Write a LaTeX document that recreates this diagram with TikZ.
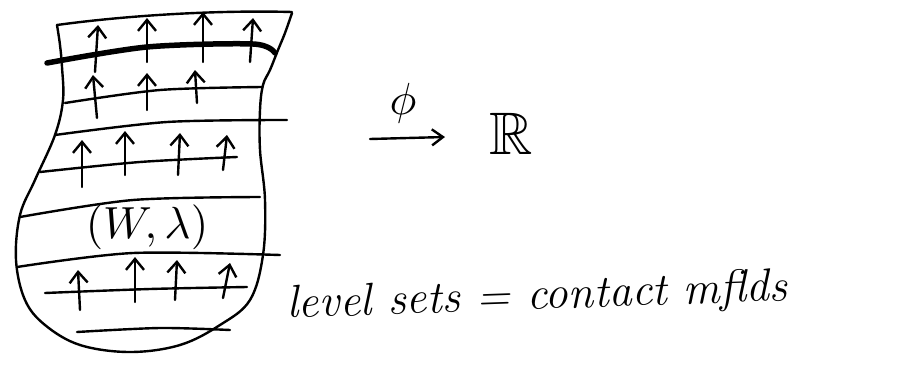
\documentclass[tikz,border=0pt]{standalone}
\usepackage{amssymb}
\usetikzlibrary{arrows.meta}
\begin{document}
\begin{tikzpicture}[x=1pt,y=-1pt,
  pen/.style={line width=2.4pt,line cap=round,line join=round},
  heavy/.style={line width=5.5pt,line cap=round},
  up/.style={pen,-{Straight Barb[length=11pt,width=18pt,line width=2.4pt]}},
  lab/.style={inner sep=0pt}]
\useasboundingbox (0,0) rectangle (900,370);
% outline of the domain
\draw[pen] plot[smooth,tension=0.6] coordinates {(57,25) (60,45) (62,67) (63,100) (55,135) (35,180) (20,215) (16,260) (25,300) (45,325) (80,345) (130,352) (180,345) (220,325) (250,300) (263,255) (265,200) (260,150) (260,110) (263,85) (270,70) (278,50) (285,33) (292,13)};
\draw[pen] (57,25) .. controls (130,15) and (220,10) .. (292,12);
% heavy level set
\draw[heavy] plot[smooth] coordinates {(47,63) (147,47) (253,44) (275,53)};
% level sets
\draw[pen] plot[smooth] coordinates {(65,103) (160,90) (262,87)};
\draw[pen] plot[smooth] coordinates {(55,135) (167,122) (287,120)};
\draw[pen] plot[smooth] coordinates {(40,172) (140,162) (237,157)};
\draw[pen] plot[smooth] coordinates {(20,217) (133,200) (260,197)};
\draw[pen] plot[smooth] coordinates {(17,267) (133,253) (280,255)};
\draw[pen] plot[smooth] coordinates {(45,293) (150,289) (247,287)};
\draw[pen] plot[smooth] coordinates {(77,332) (160,328) (230,330)};
% Liouville vector field arrows
\draw[up] (95,72) -- (98,25);
\draw[up] (147,62) -- (147,18);
\draw[up] (203,62) -- (203,12);
\draw[up] (250,62) -- (253,18);
\draw[up] (97,118) -- (93,75);
\draw[up] (147,110) -- (147,73);
\draw[up] (197,103) -- (195,70);
\draw[up] (82,187) -- (82,140);
\draw[up] (125,175) -- (125,131);
\draw[up] (178,175) -- (180,133);
\draw[up] (223,170) -- (227,135);
\draw[up] (80,310) -- (78,270);
\draw[up] (135,302) -- (135,257);
\draw[up] (175,300) -- (177,260);
\draw[up] (223,298) -- (230,263);
% label inside
\node[lab] (wl) at (147,227) {\scalebox{4.5}{$(W,\lambda)$}};
% map phi to R
\node[lab] (R) at (511,134) {\scalebox{6}{$\mathbb{R}$}};
\node[lab] (phi) at (403,103) {\scalebox{4.5}{$\phi$}};
\coordinate (src) at (370,139);
\coordinate (dst) at (445,137);
\draw[pen,-{Straight Barb[length=11pt,width=16pt,line width=2.4pt]}] (src) -- (dst);
% caption
\node[lab,font=\fontsize{46}{50}\selectfont\itshape,anchor=base west,rotate=2] (cap) at (287,318) {level sets = contact mflds};
\end{tikzpicture}
\end{document}
